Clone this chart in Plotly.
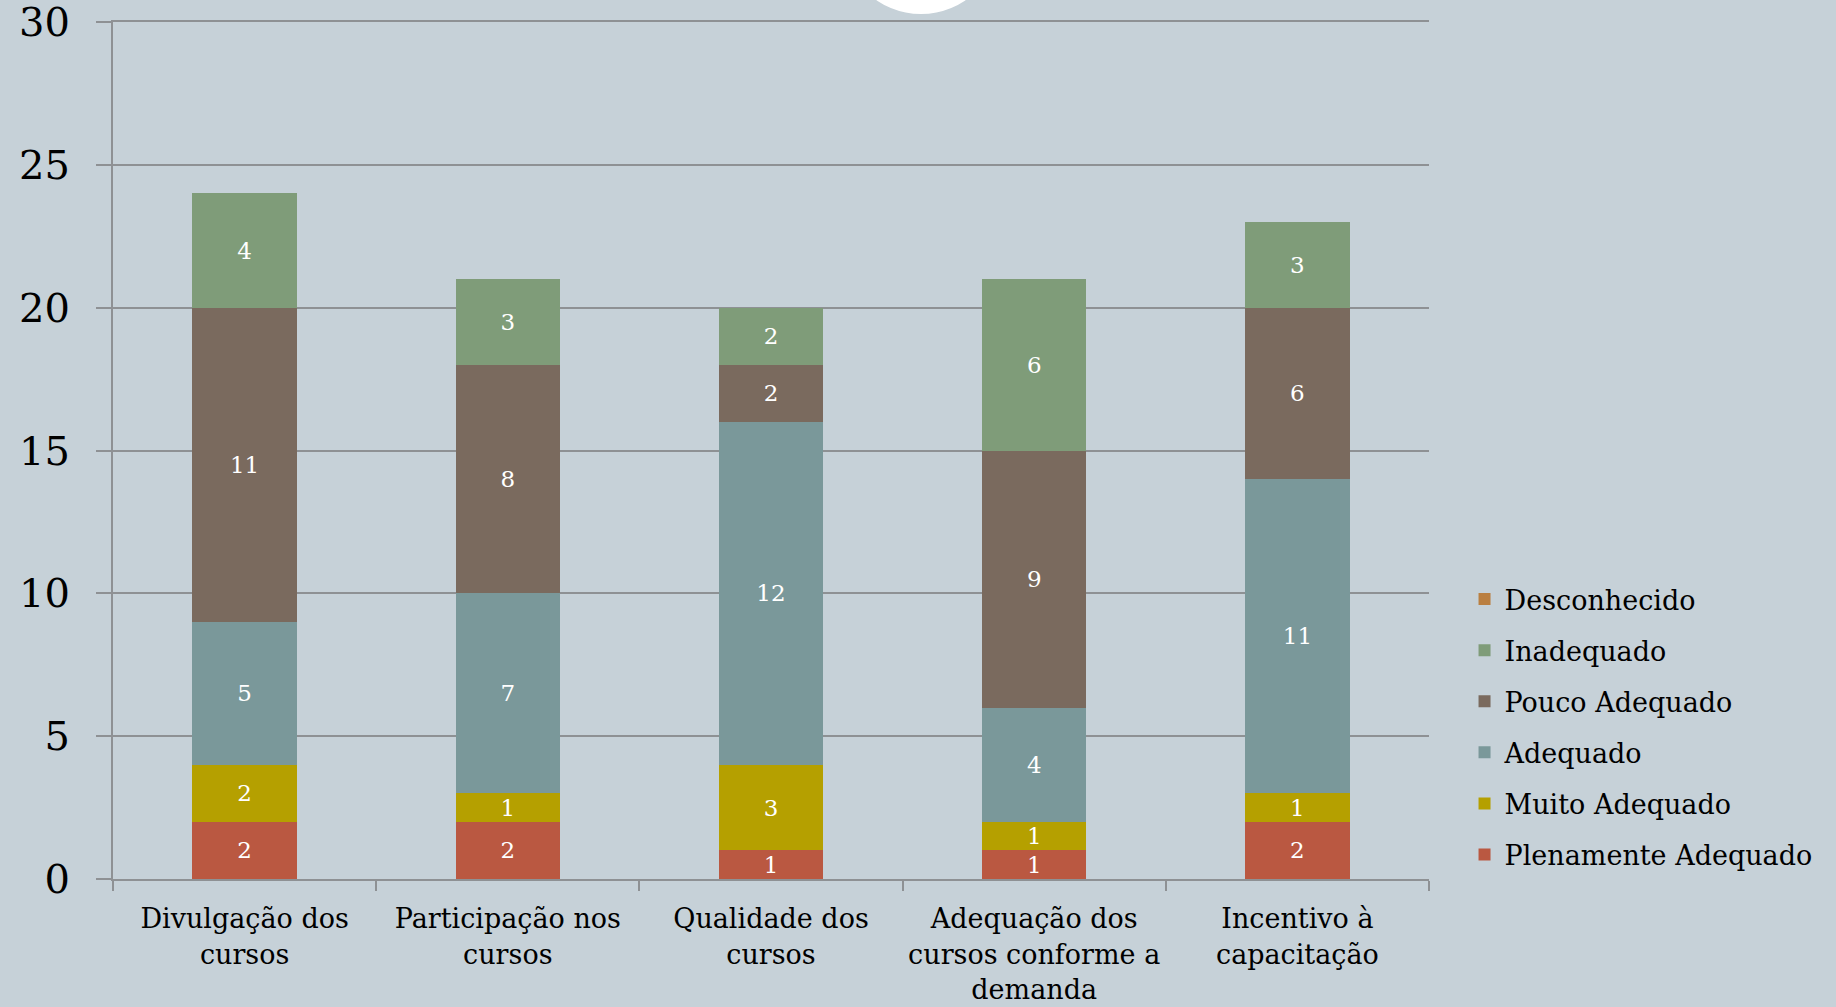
import plotly.graph_objects as go

categories = [
    "Divulgação dos<br>cursos",
    "Participação nos<br>cursos",
    "Qualidade dos<br>cursos",
    "Adequação dos<br>cursos conforme a<br>demanda",
    "Incentivo à<br>capacitação",
]
plenamente = [2, 2, 1, 1, 2]
muito = [2, 1, 3, 1, 1]
adequado = [5, 7, 12, 4, 11]
pouco = [11, 8, 2, 9, 6]
inadequado = [4, 3, 2, 6, 3]
desconhecido = [0, 0, 0, 0, 0]

series = [
    ("Plenamente Adequado", plenamente, "#BA5841"),
    ("Muito Adequado", muito, "#B5A000"),
    ("Adequado", adequado, "#7A989A"),
    ("Pouco Adequado", pouco, "#7A6A5E"),
    ("Inadequado", inadequado, "#7F9C79"),
    ("Desconhecido", desconhecido, "#BA7F41"),
]

FONT = "Georgia, 'DejaVu Serif', serif"
BG = "#C6D1D8"
GRID = "#8E9194"

fig = go.Figure()
n = len(series)
for i, (name, vals, color) in enumerate(series):
    fig.add_trace(go.Bar(
        x=categories, y=vals, name=name, legendgroup=name,
        legendrank=n - i,
        marker=dict(color=color, line=dict(width=0)),
        text=[str(v) if v else "" for v in vals],
        textposition="inside", insidetextanchor="middle", textangle=0,
        constraintext="none",
        textfont=dict(family=FONT, size=23, color="white"),
        hoverinfo="skip",
    ))

fig.update_layout(
    width=1836, height=1007,
    barmode="stack", bargap=0.604,
    paper_bgcolor=BG, plot_bgcolor=BG,
    margin=dict(l=113, r=407, t=22, b=128, autoexpand=False),
    font=dict(family=FONT, color="black"),
    showlegend=True,
    legend=dict(
        x=1.027, xanchor="left", y=0.0, yanchor="bottom",
        traceorder="grouped", tracegroupgap=13,
        font=dict(family=FONT, size=27, color="black"),
        bgcolor="rgba(0,0,0,0)", itemsizing="constant",
    ),
    xaxis=dict(
        type="category", tickson="boundaries", automargin=False,
        showgrid=False, showline=True, linecolor=GRID, linewidth=2,
        mirror=True,
        ticks="outside", ticklen=10, tickcolor=GRID, tickwidth=2,
        ticklabelstandoff=15,
        tickfont=dict(family=FONT, size=27, color="black"),
    ),
    yaxis=dict(
        range=[0, 30], dtick=5, tick0=0, automargin=False,
        showgrid=True, gridcolor=GRID, gridwidth=1.5,
        showline=True, linecolor=GRID, linewidth=2,
        ticks="outside", ticklen=15, tickcolor=GRID, tickwidth=1.5,
        ticklabelstandoff=18, ticklabeloverflow="allow",
        tickfont=dict(family=FONT, size=40, color="black"),
        zeroline=False,
    ),
    shapes=[dict(
        type="circle", xref="paper", yref="paper",
        x0=0.554, x1=0.674, y0=1.0093, y1=1.1937,
        fillcolor="white", line=dict(width=0), layer="above",
    )],
)

fig.write_html("out.html", config={"displayModeBar": False},
               post_script="document.body.style.margin='0';")
